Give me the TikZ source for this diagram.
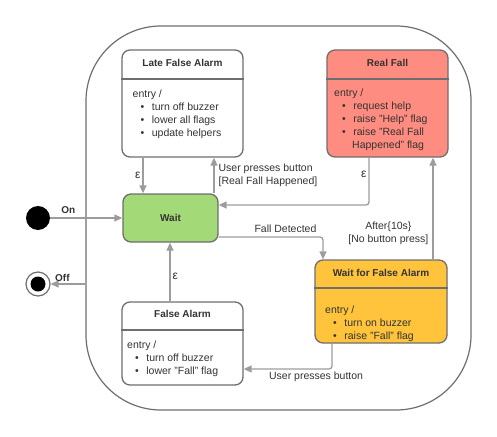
\documentclass[tikz,border=0pt]{standalone}
\usepackage{fontspec}
\setmainfont{Liberation Sans}
\usetikzlibrary{arrows.meta}

\definecolor{bord}{HTML}{6E6E6E}
\definecolor{gris}{HTML}{9C9C9C}
\definecolor{texte}{HTML}{333333}
\definecolor{vert}{HTML}{A3D977}
\definecolor{saumon}{HTML}{FF8C80}
\definecolor{jaune}{HTML}{FFC43C}

\newcommand\puce{\hspace*{8pt}\textbullet\hspace{7.5pt}}

\tikzset{etat/.style = {draw=bord, line width=1.3pt, rounded corners=8pt, fill=white,
                        minimum width=#1, inner sep=0pt},
         etat/.default=121pt,
         titre/.style = {font=\bfseries, text=texte, inner sep=0pt},
         corps/.style = {anchor=north west, align=left, inner sep=0pt, text=texte},
         fleche/.style = {draw=gris, line width=1.3pt, rounded corners=3pt,
                          -{Triangle[length=8pt,width=7pt]}},
         etiq/.style = {text=texte, inner sep=2pt}
        }

\begin{document}
\begin{tikzpicture}[x=1pt, y=-1pt, font=\fontsize{10.5}{13}\selectfont]
  \useasboundingbox (0,0) rectangle (497,436);

  \node[draw=bord, line width=1.2pt, rounded corners=75pt, minimum width=385pt,
        minimum height=384pt] (composite) at (278.5,218) {};

  \node[etat, minimum height=107pt] (late) at (182.5,103.5) {};
  \node[titre] at (182.5,63) {Late False Alarm};
  \draw[bord, line width=1.3pt] (late.west |- 0,79) -- (late.east |- 0,79);
  \node[corps] at (132.5,89.5) {entry /\\
    \puce turn off buzzer\\
    \puce lower all flags\\
    \puce update helpers};

  \node[etat, fill=saumon, minimum height=107pt] (real) at (387.5,103.5) {};
  \node[titre] at (387.5,63) {Real Fall};
  \draw[bord, line width=1.3pt] (real.west |- 0,79) -- (real.east |- 0,79);
  \node[corps] at (334,88.5) {entry /\\
    \puce request help\\
    \puce raise "Help" flag\\
    \puce raise "Real Fall\\
    \hspace*{18pt}Happened" flag};

  \node[etat=95pt, fill=vert, minimum height=48pt, font=\bfseries, text=texte] (wait) at (170.5,218) {Wait};

  \node[etat=132pt, fill=jaune, minimum height=83pt] (wffa) at (381,301.5) {};
  \node[titre] at (381,273) {Wait for False Alarm};
  \draw[bord, line width=1.3pt] (wffa.west |- 0,288) -- (wffa.east |- 0,288);
  \node[corps] at (325,305.5) {entry /\\
    \puce turn on buzzer\\
    \puce raise "Fall" flag};

  \node[etat, minimum height=83pt] (false) at (182.5,343.5) {};
  \node[titre] at (182.5,314) {False Alarm};
  \draw[bord, line width=1.3pt] (false.west |- 0,330) -- (false.east |- 0,330);
  \node[corps] at (127,340.5) {entry /\\
    \puce turn off buzzer\\
    \puce lower "Fall" flag};

  \node[circle, fill=black, minimum size=24pt, inner sep=0pt] (init) at (38,218) {};
  \node[circle, draw=bord, line width=1.2pt, fill=white, minimum size=24pt, inner sep=0pt] (final) at (38,284) {};
  \fill[black] (final.center) circle (7.5pt);
  \coordinate (sortie) at (composite.west |- final);

  \draw[fleche] (init) -- (init -| wait.west)
    node[etiq, above, pos=0.25, yshift=2pt, font=\bfseries] {On};
  \draw[fleche] (sortie) -- (final)
    node[etiq, above, pos=0.66, font=\bfseries] {Off};

  \draw[fleche] ([xshift=-39.5pt]late.south) -- ([xshift=-39.5pt]late.south |- wait.north)
    node[etiq, left, midway, font=\large] {ε};
  \draw[fleche] ([xshift=43.5pt]wait.north) -- ([xshift=43.5pt]wait.north |- late.south)
    node[etiq, right, align=left, midway, xshift=2pt] {User presses button\\{}[Real Fall Happened]};
  \draw[fleche] ([xshift=-18.5pt]real.south) |- ([yshift=13pt]wait.east)
    node[etiq, left, pos=0.18, font=\large] {ε};
  \draw[fleche] ([yshift=-19pt]wait.east) -| ([xshift=-58pt]wffa.north)
    node[etiq, above, pos=0.32, yshift=2pt] {Fall Detected};
  \draw[fleche] ([xshift=52pt]wffa.north) -- ([xshift=52pt]wffa.north |- real.south)
    node[etiq, left, align=center, pos=0.26, xshift=-2pt] {After\{10s\}\\{}[No button press]};
  \draw[fleche] ([xshift=-49pt]wffa.south) |- ([yshift=-25.5pt]false.east)
    node[etiq, below, pos=0.59] {User presses button};
  \draw[fleche] ([xshift=-12.5pt]false.north) -- ([xshift=-12.5pt]false.north |- wait.south)
    node[etiq, right, pos=0.43, font=\large] {ε};
\end{tikzpicture}
\end{document}
